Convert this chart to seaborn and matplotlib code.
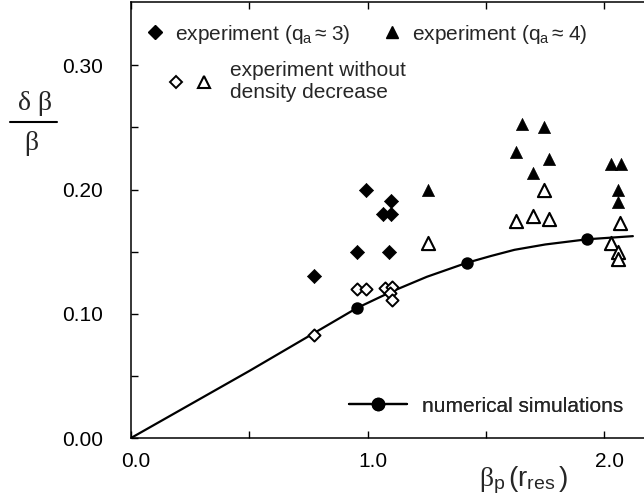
import numpy as np
import pandas as pd
import matplotlib
matplotlib.use("Agg")
import matplotlib.pyplot as plt
from matplotlib.lines import Line2D
from matplotlib.transforms import ScaledTranslation
from matplotlib.legend_handler import HandlerTuple
import seaborn as sns

# ---------------- data ----------------
exp_q3_x = [0.773, 0.956, 0.993, 1.066, 1.097, 1.097, 1.090]
exp_q3_y = [0.1306, 0.150, 0.200, 0.180, 0.180, 0.191, 0.150]

exp_q3_nd_x = [0.773, 0.956, 0.993, 1.073, 1.101, 1.094, 1.101]
exp_q3_nd_y = [0.083, 0.120, 0.120, 0.1204, 0.1212, 0.1164, 0.111]

exp_q4_x = [1.256, 1.653, 1.746, 1.627, 1.766, 1.697, 2.027, 2.069, 2.056, 2.056]
exp_q4_y = [0.200, 0.2526, 0.2505, 0.230, 0.225, 0.213, 0.2204, 0.2204, 0.200, 0.190]

exp_q4_nd_x = [1.256, 1.746, 1.627, 1.697, 1.766, 2.065, 2.027, 2.056, 2.056]
exp_q4_nd_y = [0.157, 0.1995, 0.175, 0.179, 0.1767, 0.1727, 0.1566, 0.150, 0.1445]

sim_x = [0.953, 1.418, 1.928]
sim_y = [0.1045, 0.141, 0.160]

curve_x = [0.0, 0.5, 0.953, 1.1, 1.25, 1.418, 1.52, 1.62, 1.75, 1.928, 2.12]
curve_y = [0.0, 0.054, 0.1045, 0.1178, 0.1298, 0.141, 0.1465, 0.1515, 0.1558, 0.160, 0.1625]

x_ticks = [0.0, 1.0, 2.0]
x_ticklabels = ["0.0", "1.0", "2.0"]
y_ticks = [0.0, 0.1, 0.2, 0.3]
y_ticklabels = ["0.00", "0.10", "0.20", "0.30"]

# ---------------- style ----------------
sns.set_style("ticks")
plt.rcParams["font.family"] = ["Liberation Sans", "DejaVu Sans"]
plt.rcParams["mathtext.fontset"] = "custom"
plt.rcParams["mathtext.rm"] = "Liberation Sans"
plt.rcParams["mathtext.it"] = "Liberation Serif"
plt.rcParams["mathtext.bf"] = "Liberation Sans:bold"

FS = 15
fig = plt.figure(figsize=(6.44, 4.97), dpi=100)
W, H = 644, 497
ax = fig.add_axes([131 / W, 59 / H, 513 / W, 436 / H])

# curve
curve_df = pd.DataFrame({"x": curve_x, "y": curve_y})
sns.lineplot(data=curve_df, x="x", y="y", ax=ax, color="black", lw=1.6,
             sort=False, estimator=None, zorder=2)

# simulation points
sns.scatterplot(x=sim_x, y=sim_y, ax=ax, marker="o", s=80, color="black",
                edgecolor="black", linewidth=0, zorder=3)

# experiments
sns.scatterplot(x=exp_q3_x, y=exp_q3_y, ax=ax, marker="D", s=52, color="black",
                edgecolor="black", linewidth=0.5, zorder=4)
sns.scatterplot(x=exp_q3_nd_x, y=exp_q3_nd_y, ax=ax, marker="D", s=38, color="white",
                edgecolor="black", linewidth=1.4, zorder=4)
sns.scatterplot(x=exp_q4_x, y=exp_q4_y, ax=ax, marker="^", s=76, color="black",
                edgecolor="black", linewidth=0.5, zorder=4)
sns.scatterplot(x=exp_q4_nd_x, y=exp_q4_nd_y, ax=ax, marker="^", s=90, color="white",
                edgecolor="black", linewidth=1.5, zorder=4)

# axes
ax.set_xlim(0, 2.167)
ax.set_ylim(0, 0.351)
ax.set_xticks(x_ticks)
ax.set_xticklabels(x_ticklabels)
ax.set_yticks(y_ticks)
ax.set_yticklabels(y_ticklabels)
ax.set_xticks([0.5, 1.5], minor=True)
ax.set_yticks([0.05, 0.15, 0.25], minor=True)
ax.tick_params(axis="both", which="both", direction="in", length=5, width=1,
               color="black", labelsize=FS, labelcolor="black")
ax.tick_params(axis="x", which="both", top=True, pad=10)
ax.tick_params(axis="y", which="both", pad=20)
for lab in ax.get_xticklabels():
    lab.set_transform(lab.get_transform() + ScaledTranslation(5 / 100, 0, fig.dpi_scale_trans))
for s in ["left", "bottom", "top"]:
    ax.spines[s].set_linewidth(1.1)
    ax.spines[s].set_color("black")
ax.spines["right"].set_visible(False)
ax.set_ylabel("")
ax.set_xlabel(r"$\beta_{\mathrm{p}}\,(\mathrm{r}_{\mathrm{res}}\,)$", fontsize=20)
ax.xaxis.set_label_coords((523 - 131) / 513, -0.060)

# y label as fraction
fig.text(35 / W, 1 - 103 / H, "δ β", family="Liberation Serif", fontsize=20,
         ha="center", va="center")
fig.text(31 / W, 1 - 144 / H, "β", family="Liberation Serif", fontsize=20,
         ha="center", va="center")
fig.add_artist(Line2D([10 / W, 57 / W], [1 - 122 / H, 1 - 122 / H], color="black", lw=1.5))

# legends
def add_leg(handles, labels, x_px, y_px, hl=1.0, htp=0.45):
    leg = ax.legend(handles, labels, loc="center left",
                    bbox_to_anchor=((x_px - 131) / 513, (438 - y_px) / 436),
                    frameon=False, fontsize=FS, borderpad=0, borderaxespad=0,
                    handlelength=hl, handletextpad=htp,
                    handler_map={tuple: HandlerTuple(ndivide=None, pad=0.4)})
    ax.add_artist(leg)
    return leg

h_q3 = Line2D([], [], ls="none", marker="D", ms=7.0, mfc="black", mec="black")
h_q4 = Line2D([], [], ls="none", marker="^", ms=8.7, mfc="black", mec="black")
h_q3o = Line2D([], [], ls="none", marker="D", ms=6.0, mfc="white", mec="black", mew=1.4)
h_q4o = Line2D([], [], ls="none", marker="^", ms=9.0, mfc="white", mec="black", mew=1.5)
h_sim = Line2D([], [], ls="-", lw=1.6, color="black", marker="o", ms=8.8)

add_leg([h_q3], ["experiment (" + r"$\mathrm{q}_{\mathrm{a}}\,$" + "≈ 3)"], 145, 34)
add_leg([h_q4], ["experiment (" + r"$\mathrm{q}_{\mathrm{a}}\,$" + "≈ 4)"], 382, 34)
add_leg([(h_q3o, h_q4o)], ["experiment without\ndensity decrease"], 166, 82, hl=2.3, htp=0.75)
add_leg([h_sim], ["numerical simulations"], 349, 406, hl=2.8, htp=0.7)

fig.savefig("out.png", dpi=100)
